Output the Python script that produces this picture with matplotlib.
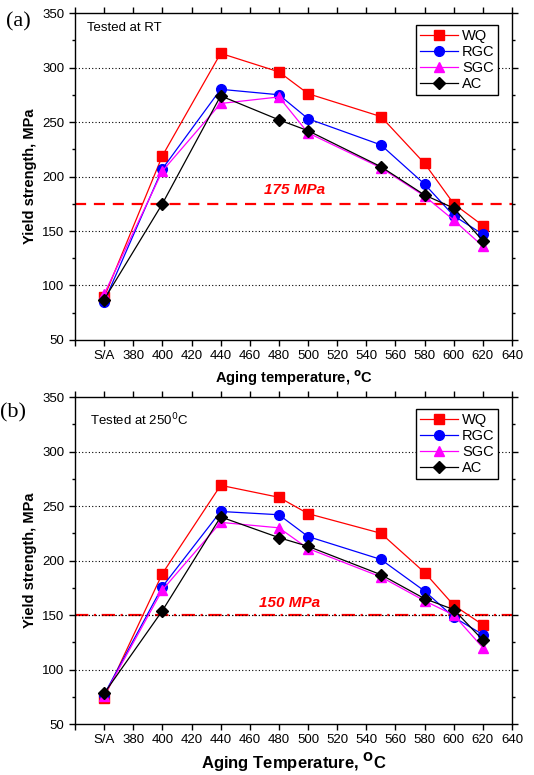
import numpy as np
import matplotlib.pyplot as plt
from matplotlib.ticker import MultipleLocator

plt.rcParams['font.family'] = ['Liberation Sans', 'DejaVu Sans']

# aging temperature, S/A (solution annealed) is put at 360
temps = [360, 400, 440, 480, 500, 550, 580, 600, 620]
xtick_pos = [340, 360, 380, 400, 420, 440, 460, 480, 500, 520, 540, 560, 580, 600, 620, 640]
xtick_lab = ['', 'S/A', '380', '400', '420', '440', '460', '480', '500', '520',
             '540', '560', '580', '600', '620', '640']

# (a) tested at RT
wq_rt = [89, 219, 313, 296, 276, 255, 212, 175, 155]
rgc_rt = [85, 207, 280, 275, 253, 229, 193, 164, 147]
sgc_rt = [92, 205, 267, 273, 240, 208, 182, 160, 136]
ac_rt = [87, 175, 274, 252, 242, 209, 183, 171, 141]

# (b) tested at 250 C
wq_ht = [74, 188, 269, 258, 243, 225, 189, 159, 141]
rgc_ht = [77, 176, 245, 242, 222, 201, 172, 148, 132]
sgc_ht = [76, 173, 235, 230, 211, 185, 163, 150, 120]
ac_ht = [78, 154, 240, 221, 213, 187, 165, 155, 127]

names = ['WQ', 'RGC', 'SGC', 'AC']
colors = ['#ff0000', '#0000ff', '#ff00ff', '#000000']
markers = ['s', 'o', '^', 'D']
msizes = [6.5, 7, 7.5, 6]

fig = plt.figure(figsize=(5.34, 7.75), dpi=100)
ax1 = fig.add_axes([0.1404, 0.5613, 0.8184, 0.4219])
ax2 = fig.add_axes([0.1404, 0.0658, 0.8184, 0.4219])


def panel(ax, series, ref, ref_ls, ref_text, ref_xy, note, note_xy):
    ax.set_xlim(340, 640)
    ax.set_ylim(50, 350)
    ax.yaxis.set_major_locator(MultipleLocator(50))
    ax.yaxis.set_minor_locator(MultipleLocator(25))
    ax.set_xticks(xtick_pos)
    ax.set_xticklabels(xtick_lab)
    ax.tick_params(which='both', direction='out', top=True, right=True,
                   labeltop=False, labelright=False, labelsize=9.5, width=1)
    ax.tick_params(which='major', length=4)
    ax.tick_params(which='minor', length=2.5)
    for sp in ax.spines.values():
        sp.set_linewidth(1)
    for v in [100, 150, 200, 250, 300]:
        ax.axhline(v, color='k', ls=(0, (1, 2)), lw=0.8, zorder=1)
    ax.axhline(ref, color='#ff0000', ls=ref_ls, lw=1.6, zorder=2)
    for s, n, c, m, ms in zip(series, names, colors, markers, msizes):
        ax.plot(temps, s, color=c, marker=m, markersize=ms, lw=0.9, label=n, zorder=3)
    ax.text(ref_xy[0], ref_xy[1], ref_text, color='#ff0000', fontsize=11,
            fontweight='bold', style='italic', ha='center', va='center')
    ax.text(note_xy[0], note_xy[1], note, fontsize=9.5, ha='left', va='center')
    ax.set_ylabel('Yield strength, MPa', fontsize=10.5, fontweight='bold', labelpad=4)
    leg = ax.legend(loc='upper right', bbox_to_anchor=(0.985, 0.985), fontsize=10.5,
                    fancybox=False, edgecolor='k', framealpha=1, handlelength=2.6,
                    handletextpad=0.3, borderpad=0.25, labelspacing=0.15)
    leg.get_frame().set_linewidth(1)


panel(ax1, [wq_rt, rgc_rt, sgc_rt, ac_rt], 175, (0, (5, 3.5)), '175 MPa', (491, 188),
      'Tested at RT', (348, 336))
ax1.set_xlabel('Aging temperature, $^{\\mathbf{o}}$C', fontsize=10.5, fontweight='bold', labelpad=4)

panel(ax2, [wq_ht, rgc_ht, sgc_ht, ac_ht], 150, (0, (6, 2.5, 1, 2.5)), '150 MPa', (487, 161),
      'Tested at 250$^{0}$C', (350, 329))
ax2.axhline(150, color='k', ls=(0, (1, 2)), lw=0.8, zorder=2)
ax2.set_xlabel('Aging Temperature, $^{\\mathbf{O}}$C', fontsize=12, fontweight='bold', labelpad=3)

fig.text(0.012, 0.972, '(a)', family='Liberation Serif', fontsize=16, va='center')
fig.text(0.0, 0.467, '(b)', family='Liberation Serif', fontsize=16, va='center')

fig.savefig('out.png', dpi=100)
